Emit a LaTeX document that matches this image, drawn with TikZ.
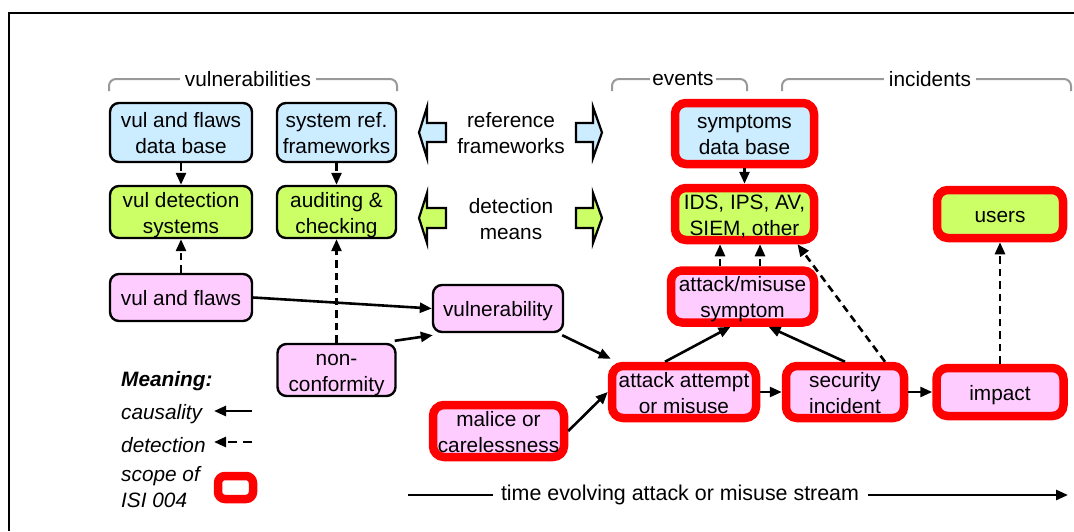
\documentclass[tikz,border=0pt]{standalone}
\usepackage{fontspec}
\setmainfont{Liberation Sans}
\usetikzlibrary{arrows.meta}
\definecolor{cblue}{HTML}{CCECFF}
\definecolor{cgreen}{HTML}{CCFF66}
\definecolor{cpink}{HTML}{FFCCFF}
\definecolor{cred}{HTML}{FF0000}
\definecolor{cbrace}{HTML}{999999}
\newcommand\bxtext[1]{\raisebox{-3pt}[\height][\depth]{\begin{tabular}{@{}c@{}}#1\end{tabular}}}
\begin{document}
\begin{tikzpicture}[x=1pt,y=-1pt,
  every node/.style={font=\fontsize{20.8}{26}\selectfont},
  box/.style={rounded corners=9pt, draw=black, line width=2.4pt, inner sep=0pt},
  redbox/.style={box, draw=cred, line width=8.5pt, rounded corners=11pt},
  bluebox/.style={box, fill=cblue},
  greenbox/.style={box, fill=cgreen},
  pinkbox/.style={box, fill=cpink},
  cause/.style={line width=2.6pt, -{Triangle[length=12pt,width=10pt]}},
  detect/.style={cause, dash pattern=on 7.5pt off 5pt},
  bracepath/.style={draw=cbrace, line width=2pt, rounded corners=7pt},
  bracelabel/.style={fill=white, inner xsep=5pt, inner ysep=1pt},
  blockarrow/.style={draw=black, line width=2.2pt},
  legend/.style={anchor=west, inner sep=0pt, font=\fontsize{20.8}{26}\selectfont\itshape}
]
\useasboundingbox (0,0) rectangle (1074,531);
\fill[white] (0,0) rectangle (1074,531);
% frame
\draw[line width=1.5pt] (9,531) -- (9,13) -- (1074,13);

% braces
\draw[bracepath] (109,91) -- (109,79) -- (397,79) -- (397,91);
\node[bracelabel] (lvul) at (248,79) {vulnerabilities};
\draw[bracepath] (612,91) -- (612,79) -- (747,79) -- (747,91);
\node[bracelabel, inner xsep=2pt] (lev) at (683,79) {events};
\draw[bracepath] (782,91) -- (782,79) -- (1071,79) -- (1071,91);
\node[bracelabel] (linc) at (930,79) {incidents};

% left column nodes
\node[bluebox, minimum width=142, minimum height=59] (vdb) at (181,132.5) {\bxtext{vul and flaws\\data base}};
\node[bluebox, minimum width=119, minimum height=59] (sref) at (336.5,132.5) {\bxtext{system ref.\\frameworks}};
\node[greenbox, minimum width=142, minimum height=48] (vds) at (181,212) {\bxtext{vul detection\\systems}};
\node[greenbox, minimum width=119, minimum height=48] (aud) at (336.5,212) {\bxtext{auditing \&\\checking}};
\node[pinkbox, minimum width=142, minimum height=47] (vaf) at (181,297.5) {\bxtext{vul and flaws}};
\node[pinkbox, minimum width=118, minimum height=48] (nonc) at (336.5,370) {\bxtext{non-\\conformity}};
\node[pinkbox, minimum width=130, minimum height=47] (vuln) at (498,308.5) {\bxtext{vulnerability}};

% red scope nodes
\node[redbox, fill=cblue, minimum width=139, minimum height=61] (sdb) at (744.5,133.5) {\bxtext{symptoms\\data base}};
\node[redbox, fill=cgreen, minimum width=139, minimum height=48] (ids) at (744.5,214) {\bxtext{IDS, IPS, AV,\\SIEM, other}};
\node[redbox, fill=cgreen, minimum width=126, minimum height=48] (users) at (1000,214) {\bxtext{users}};
\node[redbox, fill=cpink, minimum width=143, minimum height=49] (sym) at (742.5,296.5) {\bxtext{attack/misuse\\symptom}};
\node[redbox, fill=cpink, minimum width=144, minimum height=48] (att) at (684,392) {\bxtext{attack attempt\\or misuse}};
\node[redbox, fill=cpink, minimum width=118, minimum height=48] (sec) at (845,392) {\bxtext{security\\incident}};
\node[redbox, fill=cpink, minimum width=127, minimum height=48] (imp) at (1000,392) {\bxtext{impact}};
\node[redbox, fill=cpink, minimum width=131, minimum height=48] (mal) at (498.5,431) {\bxtext{malice or\\carelessness}};

% block arrows and their labels
\node[align=center, inner sep=0pt] (lref) at (511,133) {reference\\frameworks};
\node[align=center, inner sep=0pt] (ldet) at (511,219) {detection\\means};
\filldraw[blockarrow, fill=cblue] (446,123) -- (427,123) -- (427,107) -- (419,132.5) -- (427,158) -- (427,142) -- (446,142) -- cycle;
\filldraw[blockarrow, fill=cblue] (576,123) -- (593,123) -- (593,107) -- (602,132.5) -- (593,158) -- (593,142) -- (576,142) -- cycle;
\filldraw[blockarrow, fill=cgreen] (446,208) -- (427,208) -- (427,193) -- (419,218) -- (427,243) -- (427,228) -- (446,228) -- cycle;
\filldraw[blockarrow, fill=cgreen] (576,208) -- (593,208) -- (593,193) -- (602,218) -- (593,243) -- (593,228) -- (576,228) -- cycle;

% detection connectors
\draw[detect] (vdb) -- (vds);
\draw[detect] (sref) -- (aud);
\draw[detect] (vaf) -- (vds);
\draw[detect] (nonc) -- (aud);
\draw[detect] (sdb) -- (ids);
\coordinate (xa) at (720,0);
\coordinate (xb) at (760,0);
\draw[detect] (sym.north -| xa) -- (ids.south -| xa);
\draw[detect] (sym.north -| xb) -- (ids.south -| xb);
\draw[detect] ([xshift=40pt]sec.north) -- ([xshift=53pt]ids.south);
\draw[detect] (imp) -- (users);

% causality connectors
\draw[cause] (vaf.east) -- (vuln.west);
\draw[cause] ([shift={(-2pt,2pt)}]nonc.north east) -- ([shift={(1pt,-2pt)}]vuln.south west);
\draw[cause] ([shift={(-2pt,-2pt)}]vuln.south east) -- ([shift={(3pt,3pt)}]att.north west);
\draw[cause] (mal.east) -- (att.west);
\draw[cause] ([xshift=-19pt]att.north) -- ([xshift=-12pt]sym.south);
\draw[cause] (sec.north) -- ([xshift=26pt]sym.south);
\draw[cause] (att) -- (sec);
\draw[cause] (sec) -- (imp);

% legend
\node[legend, font=\fontsize{20.8}{26}\selectfont\bfseries\itshape] (lmean) at (121,381) {Meaning:};
\node[legend] (lcaus) at (121,414) {causality};
\node[legend] (ldetl) at (121,445) {detection};
\node[legend, align=left] (lscope) at (121,487) {scope of\\ISI 004};
\coordinate (c1) at (252,411);
\coordinate (c2) at (214,411);
\draw[cause] (c1) -- (c2);
\coordinate (d1) at (252,442);
\coordinate (d2) at (214,442);
\draw[detect, dash pattern=on 9pt off 6pt] (d1) -- (d2);
\node[redbox, minimum width=35, minimum height=23, rounded corners=7pt] (lred) at (235.5,487.5) {};

% time stream
\node[inner sep=0pt, font=\fontsize{21.4}{26}\selectfont] (tstream) at (680,495) {time evolving attack or misuse stream};
\coordinate (t1) at (408,495);
\coordinate (t2) at (493,495);
\coordinate (t3) at (868,495);
\coordinate (t4) at (1068,495);
\draw[line width=2.6pt] (t1) -- (t2);
\draw[cause] (t3) -- (t4);
\end{tikzpicture}
\end{document}
